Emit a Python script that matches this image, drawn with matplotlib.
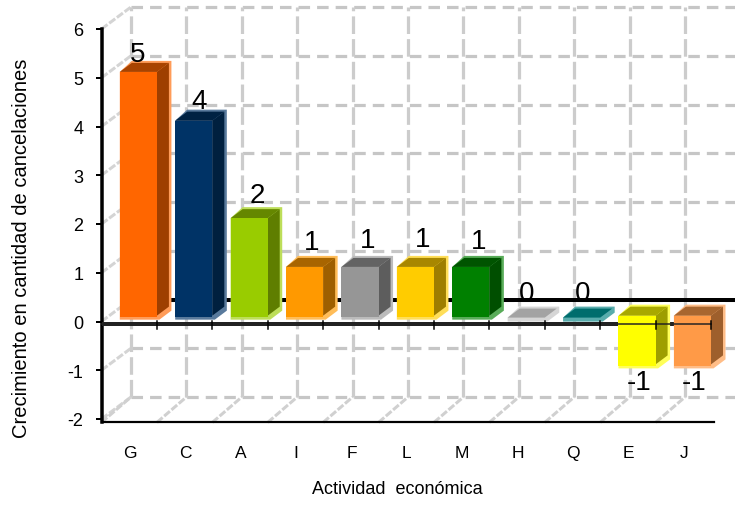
import matplotlib
matplotlib.use('Agg')
import matplotlib.pyplot as plt
from matplotlib.colors import to_rgb
from matplotlib.patches import Polygon

categories = ['G', 'C', 'A', 'I', 'F', 'L', 'M', 'H', 'Q', 'E', 'J']
values = [5, 4, 2, 1, 1, 1, 1, 0, 0, -1, -1]
colors = ['#FF6600', '#003366', '#99CC00', '#FF9900', '#969696', '#FFCC00',
          '#008000', '#C0C0C0', '#008080', '#FFFF00', '#FF9A47']
y_ticks = [-2, -1, 0, 1, 2, 3, 4, 5, 6]

plt.rcParams['font.family'] = ['Liberation Sans Narrow', 'Liberation Sans', 'DejaVu Sans']
plt.rcParams['axes.unicode_minus'] = False

W, H = 735, 506
fig = plt.figure(figsize=(W / 100, H / 100), dpi=100)
# front plane of the fake 3d box, in pixels
left, right, top, bottom = 101.5, 711, 30, 420
ax = fig.add_axes([left / W, 1 - bottom / H, (right - left) / W, (bottom - top) / H])
ax.set_xlim(0, len(categories))
ax.set_ylim(-2, 6)
ax.set_autoscale_on(False)

px = len(categories) / (right - left)
py = 8 / (bottom - top)
wall_dx, wall_dy = 29.5 * px, 22 * py


def blend(c, other, t):
    c, other = to_rgb(c), to_rgb(other)
    return tuple(a * (1 - t) + b * t for a, b in zip(c, other))


def lw(pixels):
    return pixels * 0.72


# back wall
for v in y_ticks:
    ax.plot([wall_dx, len(categories) + wall_dx], [v + wall_dy] * 2, color='#c6c6c6', lw=lw(3.2),
            dashes=(3.6, 2.2), clip_on=False, zorder=1)
    ax.plot([0, wall_dx], [v, v + wall_dy], color='#d4d4d4', lw=lw(3), dashes=(2.5, 0.7),
            clip_on=False, zorder=1)
for i in range(len(categories)):
    x_back = i + wall_dx
    ax.plot([x_back, x_back], [-2 + wall_dy, 6 + wall_dy], color='#cccccc', lw=lw(3.2),
            dashes=(5.5, 1.6), clip_on=False, zorder=1.1)
    ax.plot([i, x_back], [-2.07, -2 + wall_dy], color='#d0d0d0', lw=lw(3), dashes=(2.5, 0.7),
            clip_on=False, zorder=1.1)

# zero plane, back edge and front edge
ax.plot([wall_dx, len(categories) + wall_dx], [wall_dy, wall_dy], color='black', lw=lw(4),
        clip_on=False, zorder=2, solid_capstyle='butt')
ax.plot([0, len(categories)], [-0.06, -0.06], color='#222222', lw=lw(4), clip_on=False, zorder=3,
        solid_capstyle='butt')

# bars
base = 0.12
bar_w = 0.67
dep_x, dep_y = 12 * px, 9 * py
lip_x, lip_y = 2.5 * px, 4 * py
# where each value label sits, offset from the bar start in pixels
label_dx = [18, 24, 27, 26, 26, 26, 26, 19, 20, 21, 20]
label_dy = [18, 20, 23, 25, 27, 28, 26, 25, 25, -18, -18]
for i, (v, c) in enumerate(zip(values, colors)):
    x0, x1 = i + 0.33, i + 0.33 + bar_w
    y_top, y_bot = base + max(v, 0), base + min(v, 0)
    if v == 0:
        y_top = y_bot = 0.08
    light = blend(c, 'white', 0.35)
    hull = [(x0, y_bot - lip_y), (x1 + lip_x, y_bot - lip_y), (x1 + dep_x + lip_x, y_bot + dep_y - lip_y),
            (x1 + dep_x + lip_x, y_top + dep_y + lip_y * 0.5), (x0 + dep_x, y_top + dep_y + lip_y * 0.5),
            (x0, y_top)]
    ax.add_patch(Polygon(hull, fc=light, ec='none', clip_on=False, zorder=4))
    ax.add_patch(Polygon([(x0, y_top), (x1, y_top), (x1 + dep_x, y_top + dep_y), (x0 + dep_x, y_top + dep_y)],
                         fc=blend(c, 'black', 0.34) if v != 0 else blend(c, 'black', 0.15),
                         ec='none', clip_on=False, zorder=4.2))
    if v != 0:
        ax.add_patch(Polygon([(x1, y_bot), (x1 + dep_x, y_bot + dep_y), (x1 + dep_x, y_top + dep_y), (x1, y_top)],
                             fc=blend(c, 'black', 0.38), ec='none', clip_on=False, zorder=4.2))
        ax.add_patch(Polygon([(x0, y_bot - lip_y * 0.4), (x1, y_bot - lip_y * 0.4), (x1, y_top), (x0, y_top)],
                             fc=c, ec='none', clip_on=False, zorder=4.3))
    edge = y_top if v >= 0 else y_bot
    ax.text(x0 + label_dx[i] * px, edge + label_dy[i] * py, str(v), ha='center', va='center',
            fontsize=20, color='black', clip_on=False, zorder=6)

# thin part of the zero line with its ticks, it runs over the bars
ax.plot([0, len(categories)], [-0.06, -0.06], color='#222222', lw=lw(1.5), clip_on=False, zorder=5)
for i in range(1, len(categories) + 1):
    ax.plot([i, i], [-0.15, 0.02], color='black', lw=lw(1.5), clip_on=False, zorder=5)

# axes
for s in ['top', 'right', 'bottom']:
    ax.spines[s].set_visible(False)
ax.spines['left'].set_linewidth(lw(3.5))
ax.spines['left'].set_bounds(-2.07, 6)
ax.plot([0, len(categories) + 3 * px], [-2.07, -2.07], color='black', lw=lw(2.2), clip_on=False, zorder=3)
ax.patch.set_alpha(0)

ax.set_yticks(y_ticks)
ax.set_xticks([i + 0.51 for i in range(len(categories))])
ax.set_xticklabels(categories)
ax.tick_params(axis='y', length=4, width=lw(2), labelsize=13, pad=9, color='black')
ax.tick_params(axis='x', length=0, labelsize=12.5, pad=19)

fig.text(22 / W, 1 - 248 / H, 'Crecimiento en cantidad de cancelaciones', rotation=90, ha='center', va='center',
         fontsize=14.5)
fig.text(397 / W, 1 - 490 / H, 'Actividad  económica', ha='center', va='center', fontsize=13)

fig.savefig('out.png', dpi=100)
